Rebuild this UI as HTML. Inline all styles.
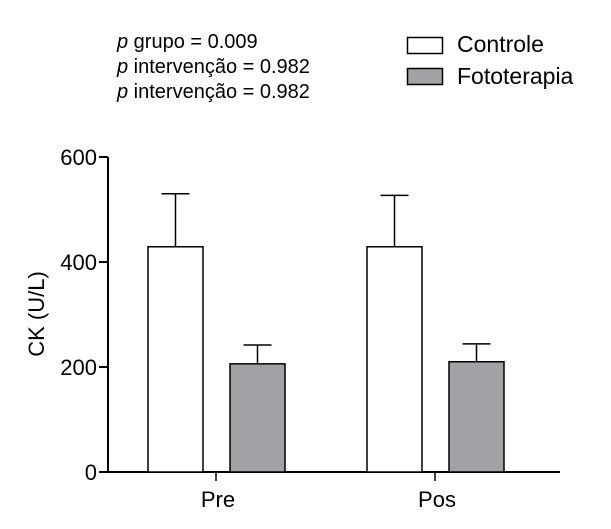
<!DOCTYPE html>
<html><head><meta charset="utf-8"><style>
html,body{margin:0;padding:0;background:#fff;}
svg{display:block;font-family:"Liberation Sans",Arial,sans-serif;}
</style></head><body>
<svg id="chart" width="611" height="529" viewBox="0 0 611 529">
<g font-size="20" fill="#000">
<text x="117" y="48"><tspan font-style="italic">p</tspan> grupo = 0.009</text>
<text x="117" y="73"><tspan font-style="italic">p</tspan> intervenção = 0.982</text>
<text x="117" y="98"><tspan font-style="italic">p</tspan> intervenção = 0.982</text>
</g>
<g font-size="23">
<rect x="407.5" y="37.5" width="35" height="16" fill="#fff" stroke="#000" stroke-width="1.5"/>
<text x="457" y="52">Controle</text>
<rect x="407.5" y="68.5" width="35" height="16" fill="#a2a2a6" stroke="#000" stroke-width="1.5"/>
<text x="457" y="84">Fototerapia</text>
</g>
<text font-size="22" text-anchor="middle" transform="translate(44,314) rotate(-90)">CK (U/L)</text>
<g id="plot"></g>
</svg>
<script>
const categories = ["Pre", "Pos"];
const controleValues = [429, 429];
const controleErrors = [101, 98];
const fototerapiaValues = [206, 210];
const fototerapiaErrors = [36, 34];
const yTicks = [0, 200, 400, 600];

const NS = "http://www.w3.org/2000/svg";
const plot = document.getElementById("plot");
const y0 = 472, yTop = 157, yMax = 600;
const yScale = v => y0 - (v / yMax) * (y0 - yTop);
const catCenter = i => 216 + i * 219;
const barW = 55;
function mk(tag, attrs) {
  const e = document.createElementNS(NS, tag);
  for (const k in attrs) e.setAttribute(k, attrs[k]);
  plot.appendChild(e);
  return e;
}
const ya = mk("line", {x1: 108, y1: yTop, x2: 108, y2: y0, stroke: "#000", "stroke-width": 2});


const xa = mk("line", {x1: 107, y1: y0, x2: 560, y2: y0, stroke: "#000", "stroke-width": 2});


yTicks.forEach(t => {
  const y = yScale(t);
  const tl = mk("line", {x1: 99, y1: y, x2: 108, y2: y, stroke: "#000", "stroke-width": 2});
  
  
  const tx = mk("text", {x: 97, y: y + 8, "text-anchor": "end", "font-size": 22});
  tx.textContent = t;
  
  
});
function bar(x, v, err, fill, name) {
  const top = yScale(v);
  const cx = x + barW / 2;
  const el = mk("line", {x1: cx, y1: yScale(v + err), x2: cx, y2: top, stroke: "#000", "stroke-width": 1.5});
  
  
  const cap = mk("line", {x1: cx - 14, y1: yScale(v + err), x2: cx + 14, y2: yScale(v + err), stroke: "#000", "stroke-width": 1.5});
  
  
  const r = mk("rect", {x: x, y: top, width: barW, height: y0 - top, fill: fill, stroke: "#000", "stroke-width": 1.5});
  
  
}
categories.forEach((c, i) => {
  const cx = catCenter(i);
  bar(cx - 68, controleValues[i], controleErrors[i], "#fff", "bar-controle-" + c.toLowerCase());
  bar(cx + 14, fototerapiaValues[i], fototerapiaErrors[i], "#a2a2a6", "bar-fototerapia-" + c.toLowerCase());
  const tk = mk("line", {x1: cx, y1: y0, x2: cx, y2: y0 + 9, stroke: "#000", "stroke-width": 1.5});
  
  
  const lb = mk("text", {x: cx + 2, y: y0 + 35, "text-anchor": "middle", "font-size": 22});
  lb.textContent = c;
  
  
});
</script>
</body></html>
